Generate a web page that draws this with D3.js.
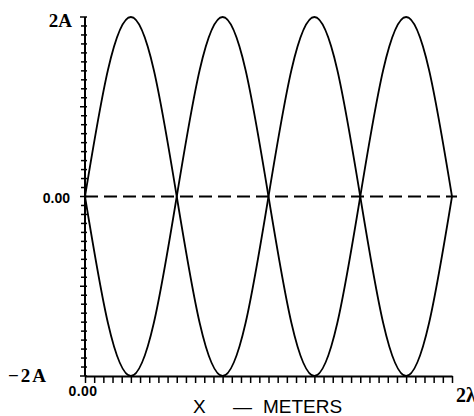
<!DOCTYPE html>
<html>
  <head>
    <meta charset="utf-8">
    <title>Standing wave envelope</title>
    <script src="https://d3js.org/d3.v7.min.js"></script>
  </head>
  <style>
    body { margin: 0; background: #fff; }
    .curve { fill: none; stroke: #000; stroke-width: 1.8; }
    .zero { fill: none; stroke: #000; stroke-width: 2; stroke-dasharray: 13,6; }
    .tick line, .tk { stroke: #000; stroke-width: 1.5; }
    .domain { stroke: #000; stroke-width: 2; }
    .lab { font-family: "Liberation Serif", serif; font-weight: bold; font-size: 19px; }
    .num { font-family: "Liberation Sans", sans-serif; font-weight: bold; font-size: 14px; }
    .title { font-family: "Liberation Sans", sans-serif; font-size: 19px; }
  </style>
  <body>
    <script type="text/javascript">
        var width = 474;
        var height = 416;

        // x in wavelengths, y in units of A (every lambda/8)
        const xs    = [0, 0.125, 0.25, 0.375, 0.5, 0.625, 0.75, 0.875, 1,
                       1.125, 1.25, 1.375, 1.5, 1.625, 1.75, 1.875, 2];
        const upper = [0, 1.41, 2, 1.41, 0, -1.41, -2, -1.41, 0,
                       1.41, 2, 1.41, 0, -1.41, -2, -1.41, 0];
        const lower = [0, -1.41, -2, -1.41, 0, 1.41, 2, 1.41, 0,
                       -1.41, -2, -1.41, 0, 1.41, 2, 1.41, 0];
        const yLabels = [{v: 2, t: '2A'}, {v: 0, t: '0.00'}, {v: -2, t: '\u22122A'}];

        const svg = d3.select('body').append('svg').attr('width', width).attr('height', height);
        const x = d3.scaleLinear().domain([0, 2]).range([85, 452]);
        const y = d3.scaleLinear().domain([-2, 2]).range([376, 17]);

        const line = d3.line().x(d => x(d[0])).y(d => y(d[1])).curve(d3.curveNatural);

        // zero line
        svg.append('line').attr('class', 'zero')
          .attr('x1', x(0)).attr('x2', x(2) + 5)
          .attr('y1', y(0)).attr('y2', y(0));

        [upper, lower].forEach(vals => {
          svg.append('path').attr('class', 'curve').attr('d', line(d3.zip(xs, vals)));
        });

        // x axis
        svg.append('g').attr('transform', 'translate(0,' + y(-2) + ')')
          .call(d3.axisBottom(x).tickValues(d3.range(0, 2.001, 0.05)).tickSize(7).tickSizeOuter(0).tickFormat(''));

        // y axis
        svg.append('line').attr('class', 'tk').style('stroke-width', 2)
          .attr('x1', x(0)).attr('x2', x(0)).attr('y1', y(2)).attr('y2', y(-2));
        svg.append('g').selectAll('line').data(d3.range(-2, 2.001, 0.1)).enter().append('line')
          .attr('class', 'tk')
          .attr('x1', d => x(0) - (Math.abs(Math.round(d * 10)) % 10 === 0 ? 5 : 4))
          .attr('x2', x(0) + 2)
          .attr('y1', d => y(d)).attr('y2', d => y(d));

        // y labels
        svg.selectAll('.ylab').data(yLabels).enter().append('text')
          .attr('class', d => d.v === 0 ? 'num' : 'lab')
          .attr('text-anchor', 'end')
          .attr('x', d => d.v === 0 ? 70 : (d.v === 2 ? 72 : 48))
          .attr('y', d => y(d.v) + (d.v === 2 ? 10 : 6))
          .style('letter-spacing', d => d.v === -2 ? '2px' : null)
          .text(d => d.t);

        // x labels
        svg.append('text').attr('class', 'num').attr('text-anchor', 'middle')
          .attr('x', x(0) - 2).attr('y', 396).style('letter-spacing', '0.5px').text('0.00');
        svg.append('text').attr('class', 'lab').style('font-size', '20px')
          .attr('x', x(2) + 4).attr('y', 402).text('2\u03bb');

        svg.append('text').attr('class', 'title').attr('x', 193).attr('y', 413).text('X');
        svg.append('text').attr('class', 'title').attr('x', 233).attr('y', 413).text('\u2014');
        svg.append('text').attr('class', 'title').attr('x', 263).attr('y', 413).text('METERS');
      </script>
  </body>
</html>
